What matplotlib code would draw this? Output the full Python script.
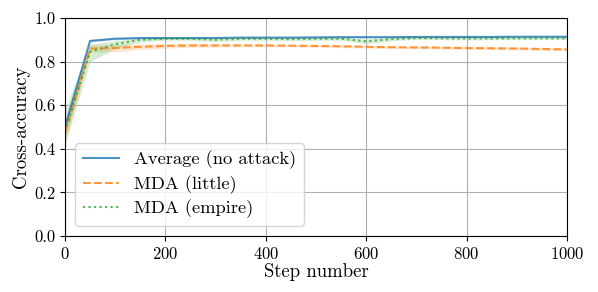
import matplotlib
matplotlib.use("Agg")
import matplotlib.pyplot as plt
import numpy as np

plt.rcParams['font.family'] = 'serif'
plt.rcParams['font.serif'] = ['cmr10', 'DejaVu Serif']
plt.rcParams['mathtext.fontset'] = 'cm'
plt.rcParams['axes.formatter.use_mathtext'] = True

steps = [0, 50, 100, 150, 200, 250, 300, 350, 400, 450, 500, 550, 600, 650, 700, 750, 800, 850, 900, 950, 1000]

avg_mean = [0.50, 0.895, 0.905, 0.908, 0.908, 0.908, 0.908, 0.910, 0.910, 0.910, 0.911, 0.912, 0.912, 0.912, 0.913, 0.913, 0.913, 0.913, 0.914, 0.914, 0.914]
avg_lo = [0.47, 0.890, 0.900, 0.904, 0.905, 0.905, 0.905, 0.907, 0.907, 0.907, 0.908, 0.909, 0.909, 0.909, 0.910, 0.910, 0.910, 0.910, 0.911, 0.911, 0.911]
avg_hi = [0.53, 0.899, 0.909, 0.911, 0.911, 0.911, 0.911, 0.913, 0.913, 0.913, 0.914, 0.915, 0.915, 0.915, 0.916, 0.916, 0.916, 0.916, 0.917, 0.917, 0.917]

little_mean = [0.47, 0.860, 0.862, 0.868, 0.872, 0.874, 0.874, 0.874, 0.874, 0.873, 0.872, 0.870, 0.868, 0.866, 0.865, 0.864, 0.862, 0.861, 0.860, 0.858, 0.856]
little_lo = [0.43, 0.845, 0.845, 0.855, 0.862, 0.866, 0.867, 0.868, 0.868, 0.867, 0.866, 0.864, 0.862, 0.860, 0.859, 0.858, 0.856, 0.855, 0.854, 0.852, 0.850]
little_hi = [0.52, 0.875, 0.878, 0.880, 0.882, 0.882, 0.881, 0.880, 0.880, 0.879, 0.878, 0.876, 0.874, 0.872, 0.871, 0.870, 0.868, 0.867, 0.866, 0.864, 0.862]

empire_mean = [0.48, 0.845, 0.880, 0.900, 0.905, 0.905, 0.900, 0.905, 0.905, 0.903, 0.905, 0.905, 0.893, 0.903, 0.908, 0.907, 0.906, 0.906, 0.907, 0.907, 0.907]
empire_lo = [0.42, 0.800, 0.860, 0.890, 0.898, 0.898, 0.893, 0.898, 0.898, 0.896, 0.898, 0.898, 0.882, 0.896, 0.902, 0.901, 0.900, 0.900, 0.901, 0.901, 0.901]
empire_hi = [0.58, 0.880, 0.895, 0.908, 0.911, 0.911, 0.907, 0.911, 0.911, 0.909, 0.911, 0.911, 0.903, 0.910, 0.913, 0.912, 0.912, 0.912, 0.912, 0.912, 0.912]

labels = ['Average (no attack)', 'MDA (little)', 'MDA (empire)']
colors = ['#1f77b4', '#ff7f0e', '#2ca02c']
styles = ['-', '--', ':']

fig = plt.figure(figsize=(5.98, 2.92), dpi=100)
ax = fig.add_axes([0.1087, 0.1918, 0.8395, 0.7466])

series = [(avg_mean, avg_lo, avg_hi), (little_mean, little_lo, little_hi), (empire_mean, empire_lo, empire_hi)]
for (m, lo, hi), lab, c, ls in zip(series, labels, colors, styles):
    ax.fill_between(steps, lo, hi, color=c, alpha=0.2, linewidth=0)
    ax.plot(steps, m, color=c, linestyle=ls, label=lab, linewidth=1.5, alpha=0.8)

ax.set_xlim(0, 1000)
ax.set_ylim(0, 1.0)
ax.set_xticks([0, 200, 400, 600, 800, 1000])
ax.set_yticks([0.0, 0.2, 0.4, 0.6, 0.8, 1.0])
ax.set_yticklabels(['0.0', '0.2', '0.4', '0.6', '0.8', '1.0'])
ax.grid(True, color='#b0b0b0', linewidth=0.8)
ax.tick_params(labelsize=12)
ax.set_xlabel('Step number', fontsize=13.5, labelpad=1)
ax.set_ylabel('Cross-accuracy', fontsize=13.5, labelpad=3)
leg = ax.legend(loc='lower left', fontsize=13.3, framealpha=0.8, labelspacing=0.32,
                handlelength=2.0, borderaxespad=0.55)

fig.savefig('out.png', dpi=100)
